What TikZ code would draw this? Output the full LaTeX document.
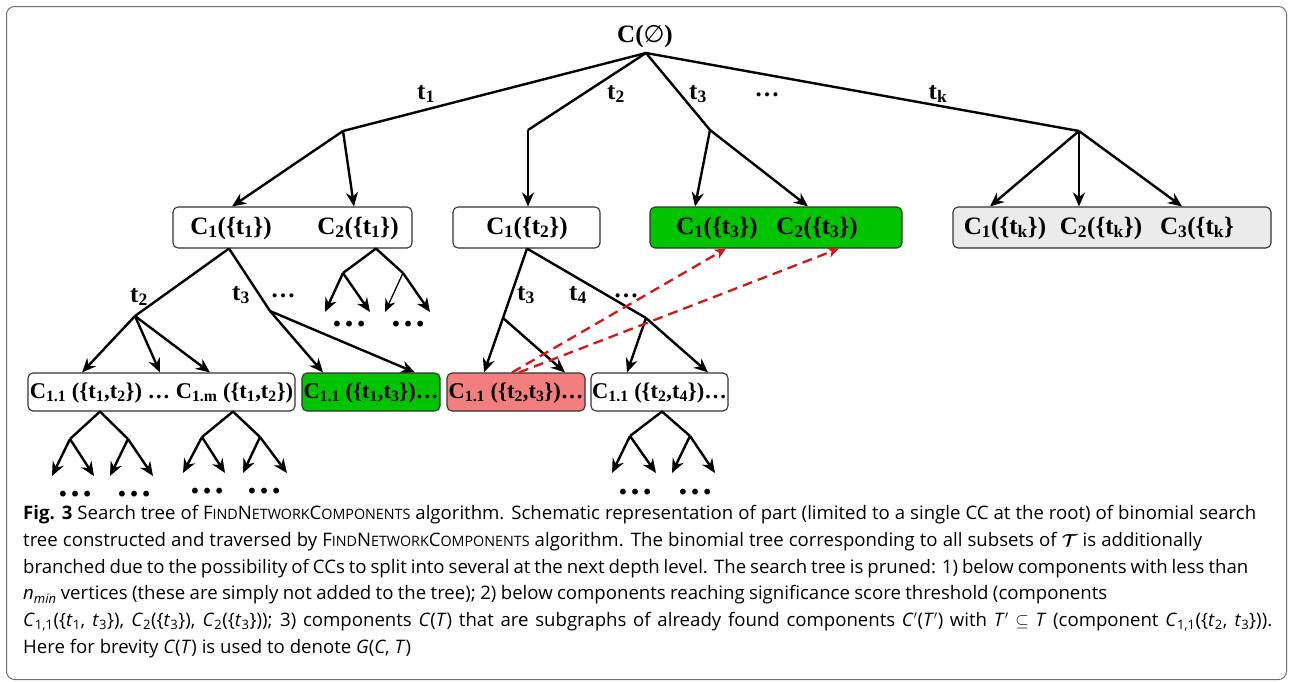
\documentclass[tikz,border=0pt]{standalone}
\usepackage{amsmath,amssymb}
\usepackage{fontspec}
\setmainfont{Liberation Serif}
\newfontfamily\capfont{Open Sans}
\newfontfamily\symfont{DejaVu Sans}
\usetikzlibrary{arrows.meta}

\newcommand\lo[1]{\textsubscript{#1}}
\newcommand\fsc[1]{{\fontsize{14.3}{15}\selectfont #1}}
\newcommand\fnc{F\fsc{IND}N\fsc{ETWORK}C\fsc{OMPONENTS}}
% one caption line spread to a given width
\newcommand\capl[2]{\makebox[#1][s]{\spaceskip=0.26em plus 0.6em minus 0.14em\relax #2}}

\definecolor{frame}{HTML}{6E6E6E}
\definecolor{okgreen}{HTML}{00C400}
\definecolor{prunered}{HTML}{F27E7E}
\definecolor{leafgray}{HTML}{EBEBEB}
\definecolor{linkred}{HTML}{D01818}

\tikzset{
  big/.style={font=\fontsize{25}{30}\selectfont\bfseries, inner sep=0pt},
  mid/.style={font=\fontsize{22.5}{27}\selectfont\bfseries, inner sep=0pt},
  dotsnode/.style={font=\fontsize{36}{36}\selectfont\bfseries, inner sep=0pt, anchor=base},
  smalldots/.style={font=\fontsize{25}{30}\selectfont\bfseries, inner sep=0pt, anchor=base},
  cbox/.style={draw=black!80, line width=1.1pt, rounded corners=5pt, inner sep=0pt},
  edge/.style={line width=2.4pt, line join=round},
  arr/.style={edge, -{Stealth[length=14pt,width=12pt,inset=4.5pt]}},
  thinarr/.style={line width=1.3pt, -{Stealth[length=13pt,width=11pt,inset=4.5pt]}},
  link/.style={draw=linkred, line width=2.3pt, dash pattern=on 10pt off 6pt,
    -{Stealth[length=11pt,width=10pt,inset=3pt]}},
  capline/.style={font=\capfont\fontsize{18.6}{22}\selectfont, inner sep=0pt, anchor=base west},
}

\begin{document}
\begin{tikzpicture}[x=1pt,y=-1pt]
\useasboundingbox (0,0) rectangle (1289,681);
% outer frame
\draw[frame, line width=1pt, rounded corners=8pt] (6.5,6.5) rectangle (1286.5,679.5);

% ---------- root ----------
\node[big] (root) at (645,36) {C({\symfont\mdseries\fontsize{24}{28}\selectfont ∅})};
\coordinate (r) at (646,53);

% ---------- first level boxes ----------
\node[cbox, minimum width=239pt, minimum height=41pt] (boxA) at (292.5,227.5) {};
\node[cbox, minimum width=147pt, minimum height=41pt] (boxB) at (526.5,227.5) {};
\node[cbox, fill=okgreen, minimum width=252pt, minimum height=41pt] (boxC) at (776,227.5) {};
\node[cbox, fill=leafgray, minimum width=318pt, minimum height=41pt] (boxK) at (1112,227.5) {};

\node[big] (a1) at (231,228) {C\lo{1}(\{t\lo{1}\})};
\node[big] (a2) at (358,228) {C\lo{2}(\{t\lo{1}\})};
\node[big] (b1) at (527,228) {C\lo{1}(\{t\lo{2}\})};
\node[big] (c1) at (717,228) {C\lo{1}(\{t\lo{3}\})};
\node[big] (c2) at (817,228) {C\lo{2}(\{t\lo{3}\})};
\node[big] (k1) at (1005,228) {C\lo{1}(\{t\lo{k}\})};
\node[big] (k2) at (1101,228) {C\lo{2}(\{t\lo{k}\})};
\node[big] (k3) at (1197,228) {C\lo{3}(\{t\lo{k}\}};

% ---------- branches from the root ----------
\coordinate (p1) at (343,131);
\coordinate (p2) at (528,130);
\coordinate (p3) at (710,130);
\coordinate (pk) at (1079,131);
\draw[edge] (r) -- (p1);
\draw[edge] (r) -- (p2);
\draw[edge] (r) -- (p3);
\draw[edge] (r) -- (pk);
\draw[arr] (p1) -- (boxA.north -| 232,0);
\draw[arr] (p1) -- (boxA.north -| 354,0);
\draw[arr] (p2) -- (boxB.north -| 528,0);
\draw[arr] (p3) -- (boxC.north -| 695,0);
\draw[arr] (p3) -- (boxC.north -| 808,0);
\draw[arr] (pk) -- (boxK.north -| 990,0);
\draw[arr] (pk) -- (boxK.north -| 1079,0);
\draw[arr] (pk) -- (boxK.north -| 1182,0);

\node[big] (lt1) at (426,94) {t\lo{1}};
\node[big] (lt2) at (616,94) {t\lo{2}};
\node[big] (lt3) at (698,94) {t\lo{3}};
\node[smalldots] (ldots) at (767,96) {\dots};
\node[big] (ltk) at (938,94) {t\lo{k}};

% ---------- second level boxes ----------
\node[cbox, minimum width=267pt, minimum height=38pt] (boxD) at (161.5,392) {};
\node[cbox, fill=okgreen, minimum width=138pt, minimum height=38pt] (boxE) at (371,392) {};
\node[cbox, fill=prunered, minimum width=138pt, minimum height=38pt] (boxF) at (516,392) {};
\node[cbox, minimum width=137pt, minimum height=38pt] (boxG) at (659.5,392) {};

\node[mid] (d1) at (161.5,393) {C\lo{1.1} (\{t\lo{1},t\lo{2}\}) \dots\ C\lo{1.m} (\{t\lo{1},t\lo{2}\})};
\node[mid] (e1) at (371,393) {C\lo{1.1} (\{t\lo{1},t\lo{3}\})\dots};
\node[mid] (f1) at (516,393) {C\lo{1.1} (\{t\lo{2},t\lo{3}\})\dots};
\node[mid] (g1) at (659.5,393) {C\lo{1.1} (\{t\lo{2},t\lo{4}\})\dots};

% ---------- branches below C_1({t_1}) ----------
\coordinate (qa) at (boxA.south -| 229,0);
\coordinate (q2) at (135,316);
\coordinate (q3) at (270,311);
\draw[edge] (qa) -- (q2);
\draw[edge] (qa) -- (q3);
\draw[arr] (q2) -- (boxD.north -| 82,0);
\draw[arr] (q2) -- (boxD.north -| 160,0);
\draw[arr] (q2) -- (boxD.north -| 210,0);
\draw[arr] (q3) -- (boxE.north -| 323,0);
\draw[arr] (q3) -- (boxE.north -| 415,0);
\node[big] (mt2) at (139,297) {t\lo{2}};
\node[big] (mt3) at (241,295) {t\lo{3}};
\node[smalldots] (mdots) at (283,297) {\dots};

% ---------- small subtree below C_2({t_1}) ----------
\coordinate (sa) at (boxA.south -| 376,0);
\coordinate (sl) at (343,273);
\coordinate (sr) at (403,273);
\draw[edge] (sl) -- (sa) -- (sr);
\draw[arr] (sl) -- (325,312);
\draw[arr] (sl) -- (370,312);
\draw[thinarr] (sr) -- (385,312);
\draw[arr] (sr) -- (430,312);
\node[dotsnode] (sd1) at (349,326) {\dots};
\node[dotsnode] (sd2) at (408,326) {\dots};

% ---------- branches below C_1({t_2}) ----------
\coordinate (qb) at (boxB.south -| 527,0);
\coordinate (u3) at (503,318);
\coordinate (u4) at (646,318);
\draw[edge] (qb) -- (u3);
\draw[edge] (qb) -- (u4);
\draw[arr] (u3) -- (boxF.north -| 484,0);
\draw[arr] (u3) -- (boxF.north -| 565,0);
\draw[arr] (u4) -- (boxG.north -| 627,0);
\draw[arr] (u4) -- (boxG.north -| 708,0);
\node[big] (nt3) at (526,295) {t\lo{3}};
\node[big] (nt4) at (578,295) {t\lo{4}};
\node[smalldots] (ndots) at (626,297) {\dots};

% ---------- subtrees below the second level ----------
\coordinate (x1) at (boxD.south -| 100,0);
\coordinate (x1l) at (70,439);
\coordinate (x1r) at (128,439);
\draw[edge] (x1l) -- (x1) -- (x1r);
\draw[arr] (x1l) -- (52,476);
\draw[arr] (x1l) -- (94,476);
\draw[arr] (x1r) -- (110,476);
\draw[arr] (x1r) -- (153,476);
\node[dotsnode] (xd1) at (75,496) {\dots};
\node[dotsnode] (xd2) at (134,496) {\dots};

\coordinate (x2) at (boxD.south -| 233,0);
\coordinate (x2l) at (202,437);
\coordinate (x2r) at (260,437);
\draw[edge] (x2l) -- (x2) -- (x2r);
\draw[arr] (x2l) -- (183,473);
\draw[arr] (x2l) -- (225,473);
\draw[arr] (x2r) -- (243,473);
\draw[arr] (x2r) -- (287,473);
\node[dotsnode] (xd3) at (207,493) {\dots};
\node[dotsnode] (xd4) at (264,493) {\dots};

\coordinate (x3) at (boxG.south -| 662,0);
\coordinate (x3l) at (630,436);
\coordinate (x3r) at (690,436);
\draw[edge] (x3l) -- (x3) -- (x3r);
\draw[arr] (x3l) -- (612,473);
\draw[arr] (x3l) -- (656,473);
\draw[arr] (x3r) -- (672,473);
\draw[arr] (x3r) -- (715,473);
\node[dotsnode] (xd5) at (635,494) {\dots};
\node[dotsnode] (xd6) at (695,494) {\dots};

% ---------- subgraph links ----------
\draw[link] (boxF.north -| 512,0) -- (boxC.south -| 726,0);
\draw[link] (boxF.north -| 519,0) -- (boxC.south -| 839,0);

% ---------- caption ----------
\node[capline] (cap1) at (23,519) {\capl{1233pt}{\textbf{Fig. 3} Search tree of \fnc\ algorithm. Schematic representation of part (limited to a single CC at the root) of binomial search}};
\node[capline] (cap2) at (23,546) {\capl{1179pt}{tree constructed and traversed by \fnc\ algorithm. The binomial tree corresponding to all subsets of $\boldsymbol{\mathcal{T}}$ is additionally}};
\node[capline] (cap3) at (23,573) {\capl{1225pt}{branched due to the possibility of CCs to split into several at the next depth level. The search tree is pruned: 1) below components with less than}};
\node[capline] (cap4) at (23,599.5) {\capl{1084pt}{\textit{n}\textsubscript{\textit{min}} vertices (these are simply not added to the tree); 2) below components reaching significance score threshold (components}};
\node[capline] (cap5) at (23,626) {\capl{1249pt}{\textit{C}\textsubscript{1,1}(\{\textit{t}\textsubscript{1}, \textit{t}\textsubscript{3}\}), \textit{C}\textsubscript{2}(\{\textit{t}\textsubscript{3}\}), \textit{C}\textsubscript{2}(\{\textit{t}\textsubscript{3}\})); 3) components \textit{C}(\textit{T}) that are subgraphs of already found components \textit{C}$'$(\textit{T}$'$) with \textit{T}$'$ $\subseteq$ \textit{T} (component \textit{C}\textsubscript{1,1}(\{\textit{t}\textsubscript{2}, \textit{t}\textsubscript{3}\})).}};
\node[capline] (cap6) at (23,653) {Here for brevity \textit{C}(\textit{T}) is used to denote \textit{G}(\textit{C}, \textit{T})};
\end{tikzpicture}
\end{document}
